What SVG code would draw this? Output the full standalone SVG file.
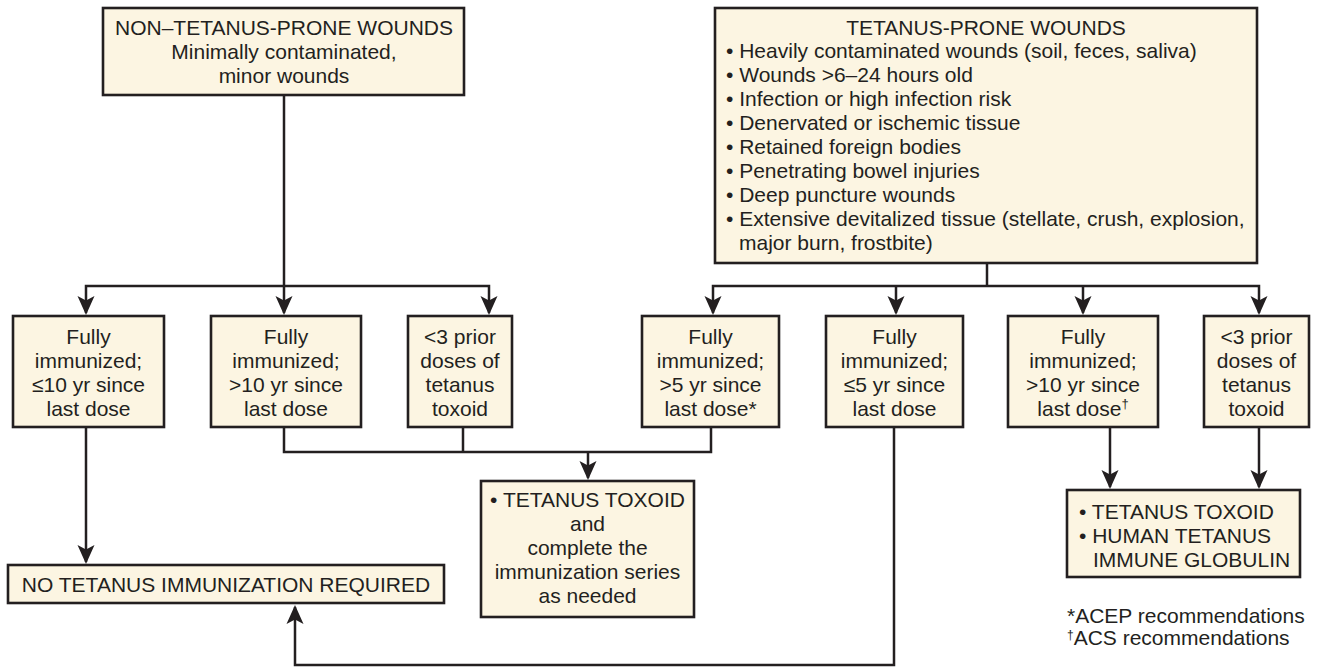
<svg xmlns="http://www.w3.org/2000/svg" width="1319" height="667" viewBox="0 0 1319 667">
<style>
.box{fill:#fcf5e2;stroke:#231f20;stroke-width:2.6}
.t{font-family:"Liberation Sans",Arial,Helvetica,sans-serif;font-size:21px;fill:#231f20}
.c{text-anchor:middle}
.ln{fill:none;stroke:#231f20;stroke-width:2.5;stroke-linejoin:miter}
.ar{marker-end:url(#ah)}
</style>
<defs>
<marker id="ah" markerUnits="userSpaceOnUse" markerWidth="22" markerHeight="18" refX="17" refY="9" orient="auto" viewBox="0 0 22 18">
<path d="M0,0.5 L19,9 L0,17.5 L4.5,9 Z" fill="#231f20"/>
</marker>
</defs>
<rect width="1319" height="667" fill="#ffffff"/>

<g id="connectors">
<path class="ln ar" d="M284,95 V313"/>
<path class="ln ar" d="M284,286 H86 V313"/>
<path class="ln ar" d="M284,286 H489 V313"/>
<path class="ln" d="M987,263 V286"/>
<path class="ln ar" d="M987,286 H713 V313"/>
<path class="ln ar" d="M987,286 H1259 V313"/>
<path class="ln ar" d="M896,286 V313"/>
<path class="ln ar" d="M1083,286 V313"/>
<path class="ln ar" d="M86,427 V562"/>
<path class="ln" d="M284,427 V452 H711 V427"/>
<path class="ln" d="M463,427 V452"/>
<path class="ln ar" d="M588,452 V478"/>
<path class="ln ar" d="M894,427 V665 H295 V607"/>
<path class="ln ar" d="M1110,427 V487"/>
<path class="ln ar" d="M1259,427 V487"/>
</g>

<g id="non-prone">
<rect class="box" x="103" y="8" width="361" height="87"/>
<text class="t c" x="284" y="35">NON–TETANUS-PRONE WOUNDS</text>
<text class="t c" x="284" y="59">Minimally contaminated,</text>
<text class="t c" x="284" y="83">minor wounds</text>
</g>

<g id="prone">
<rect class="box" x="715" y="8" width="542" height="255"/>
<text class="t c" x="986" y="35">TETANUS-PRONE WOUNDS</text>
<text class="t" x="726" y="58">• Heavily contaminated wounds (soil, feces, saliva)</text>
<text class="t" x="726" y="82">• Wounds &gt;6–24 hours old</text>
<text class="t" x="726" y="106">• Infection or high infection risk</text>
<text class="t" x="726" y="130">• Denervated or ischemic tissue</text>
<text class="t" x="726" y="154">• Retained foreign bodies</text>
<text class="t" x="726" y="178">• Penetrating bowel injuries</text>
<text class="t" x="726" y="202">• Deep puncture wounds</text>
<text class="t" x="726" y="226">• Extensive devitalized tissue (stellate, crush, explosion,</text>
<text class="t" x="739" y="250">major burn, frostbite)</text>
</g>

<g id="n1">
<rect class="box" x="13" y="316" width="151" height="111"/>
<text class="t c" x="88.5" y="344">Fully</text>
<text class="t c" x="88.5" y="368">immunized;</text>
<text class="t c" x="88.5" y="392">≤10 yr since</text>
<text class="t c" x="88.5" y="416">last dose</text>
</g>

<g id="n2">
<rect class="box" x="211" y="316" width="150" height="111"/>
<text class="t c" x="286" y="344">Fully</text>
<text class="t c" x="286" y="368">immunized;</text>
<text class="t c" x="286" y="392">&gt;10 yr since</text>
<text class="t c" x="286" y="416">last dose</text>
</g>

<g id="n3">
<rect class="box" x="408" y="316" width="104" height="111"/>
<text class="t c" x="460" y="344">&lt;3 prior</text>
<text class="t c" x="460" y="368">doses of</text>
<text class="t c" x="460" y="392">tetanus</text>
<text class="t c" x="460" y="416">toxoid</text>
</g>

<g id="n4">
<rect class="box" x="642" y="316" width="137" height="111"/>
<text class="t c" x="710.5" y="344">Fully</text>
<text class="t c" x="710.5" y="368">immunized;</text>
<text class="t c" x="710.5" y="392">&gt;5 yr since</text>
<text class="t c" x="710.5" y="416">last dose*</text>
</g>

<g id="n5">
<rect class="box" x="826" y="316" width="137" height="111"/>
<text class="t c" x="894.5" y="344">Fully</text>
<text class="t c" x="894.5" y="368">immunized;</text>
<text class="t c" x="894.5" y="392">≤5 yr since</text>
<text class="t c" x="894.5" y="416">last dose</text>
</g>

<g id="n6">
<rect class="box" x="1008" y="316" width="150" height="111"/>
<text class="t c" x="1083" y="344">Fully</text>
<text class="t c" x="1083" y="368">immunized;</text>
<text class="t c" x="1083" y="392">&gt;10 yr since</text>
<text class="t c" x="1083" y="416">last dose<tspan font-size="13" dy="-8">†</tspan></text>
</g>

<g id="n7">
<rect class="box" x="1204" y="316" width="105" height="111"/>
<text class="t c" x="1256.5" y="344">&lt;3 prior</text>
<text class="t c" x="1256.5" y="368">doses of</text>
<text class="t c" x="1256.5" y="392">tetanus</text>
<text class="t c" x="1256.5" y="416">toxoid</text>
</g>

<g id="no-immunization">
<rect class="box" x="8" y="565" width="436" height="38"/>
<text class="t c" x="226" y="592">NO TETANUS IMMUNIZATION REQUIRED</text>
</g>

<g id="toxoid">
<rect class="box" x="481" y="481" width="213" height="136"/>
<text class="t c" x="587.5" y="507">• TETANUS TOXOID</text>
<text class="t c" x="587.5" y="531">and</text>
<text class="t c" x="587.5" y="555">complete the</text>
<text class="t c" x="587.5" y="579">immunization series</text>
<text class="t c" x="587.5" y="603">as needed</text>
</g>

<g id="toxoid-tig">
<rect class="box" x="1067" y="490" width="233" height="87"/>
<text class="t" x="1079" y="519">• TETANUS TOXOID</text>
<text class="t" x="1079" y="543">• HUMAN TETANUS</text>
<text class="t" x="1093" y="567">IMMUNE GLOBULIN</text>
</g>

<g id="footnotes">
<text class="t" x="1067" y="623">*ACEP recommendations</text>
<text class="t" x="1067" y="645"><tspan font-size="12" dy="-6">†</tspan><tspan dy="6">ACS recommendations</tspan></text>
</g>
</svg>
